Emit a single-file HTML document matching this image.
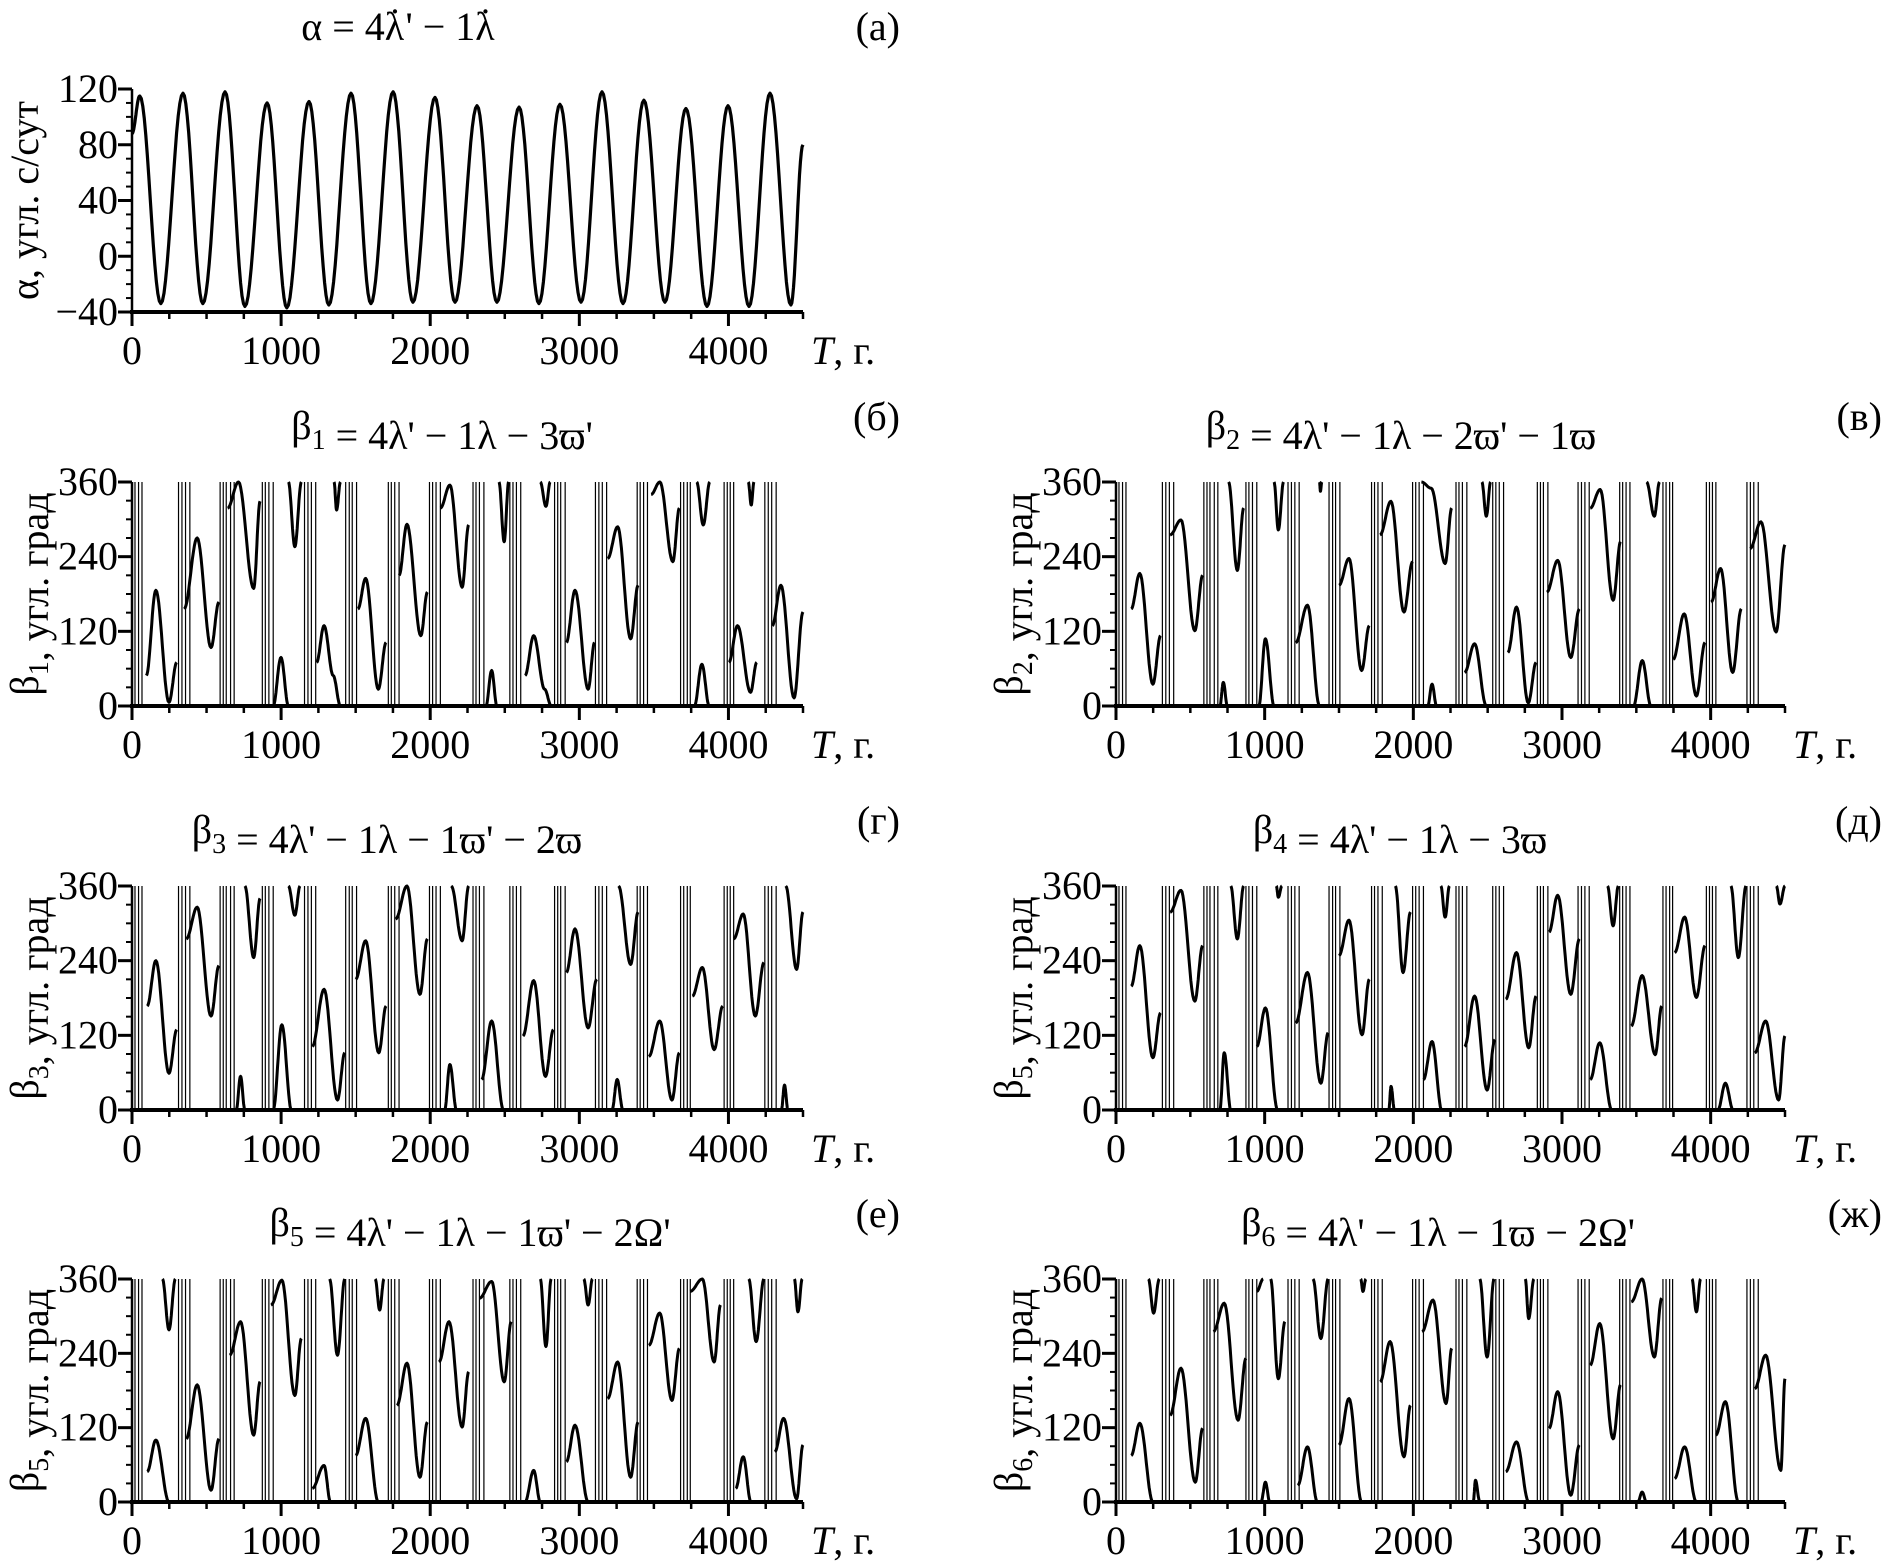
<!DOCTYPE html>
<html><head><meta charset="utf-8">
<style>
html,body{margin:0;padding:0;background:#fff;}
svg{display:block;}
text{font-family:"Liberation Serif",serif;fill:#000;}
</style></head>
<body>
<svg id="fig" width="1888" height="1566" viewBox="0 0 1888 1566" xmlns="http://www.w3.org/2000/svg">
<rect width="1888" height="1566" fill="#fff"/>
</svg>
<script>
// ---- Panel (a) data: extremes of alpha ----
const alphaT = [0,52,193,342,475,624,757,906,1038,1187,1320,1469,1602,1751,1884,2032,2166,2314,2447,2596,2729,2870,3011,3152,3293,3433,3574,3715,3856,3997,4138,4279,4419,4500];
const alphaV = [88,115,-34,117,-34,118,-36,110,-37,111,-35,117,-34,118,-33,114,-33,108,-33,107,-34,109,-33,118,-34,112,-33,106,-36,108,-36,117,-35,80];
const alphaTicks = [-40,0,40,80,120];
const betaTicks = [0,120,240,360];
const xTicks = [0,1000,2000,3000,4000];
// fast-circulation (wrap) line positions, years
const wrapT = [20,44,67,312,335,359,388,591,612,632,661,685,874,894,918,947,1157,1180,1203,1232,1433,1457,1477,1506,1719,1739,1762,1791,1995,2016,2039,2068,2287,2307,2330,2360,2534,2555,2578,2607,2834,2855,2875,2905,3108,3131,3154,3183,3388,3408,3431,3457,3679,3700,3724,3744,3971,3992,4012,4035,4244,4267,4290,4320];
// ---- beta1 arcs ----
const b1T = [[96,160,248,300],[350,437,530,583],[641,714,816,859],[1049,1092,1136],[947,999,1049],[1238,1288,1349,1398],[1355,1372,1398],[1515,1567,1652,1704],[1791,1844,1937,1981],[2068,2132,2214,2258],[2374,2412,2447],[2461,2496,2526],[2636,2694,2767,2812],[2738,2776,2805],[2913,2971,3059,3102],[3190,3257,3344,3394],[3481,3540,3627,3671],[3787,3831,3875],[3772,3822,3871],[4003,4061,4148,4190],[4133,4153,4171],[4294,4352,4440,4500]];
const b1V = [[49,186,6,70],[156,270,94,167],[318,360,189,329],[360,256,360],[0,78,0],[70,129,49,0],[360,315,360],[156,205,27,102],[210,292,113,183],[318,355,191,291],[0,57,0],[360,264,360],[49,113,27,0],[360,321,360],[102,186,27,102],[237,288,108,194],[340,360,232,318],[360,291,360],[0,67,0],[70,129,22,70],[360,323,360],[129,194,13,151]];
// ---- beta2 arcs ----
const b2T = [[102,160,248,300],[364,437,530,583],[757,816,859],[1063,1092,1127],[1369,1375,1384],[699,722,749],[961,1005,1063],[1209,1288,1369],[1500,1567,1652,1704],[1776,1849,1937,1995],[2054,2120,2214,2258],[2097,2126,2156],[2461,2491,2520],[2345,2412,2491],[2636,2694,2773,2826],[2898,2971,3059,3117],[3190,3257,3344,3394],[3569,3621,3656],[3481,3540,3598],[3748,3822,3904,3962],[4003,4067,4148,4206],[4265,4338,4440,4500]];
const b2V = [[156,213,35,113],[275,299,121,210],[360,218,318],[360,283,360],[360,345,360],[0,38,0],[0,108,0],[102,162,0],[194,237,57,129],[275,329,151,232],[360,350,229,318],[0,35,0],[360,305,360],[54,100,0],[86,159,5,70],[183,234,78,156],[318,348,170,264],[360,305,360],[0,73,0],[75,148,16,102],[167,221,54,156],[253,296,119,259]];
// ---- beta3 arcs ----
const b3T = [[102,160,248,300],[364,437,530,583],[757,816,859],[1049,1092,1127],[699,728,757],[947,1005,1069],[1209,1288,1378,1427],[1500,1567,1655,1704],[1768,1844,1931,1981],[2141,2214,2258],[2097,2132,2176],[2345,2412,2491],[2622,2694,2773,2826],[2913,2971,3059,3117],[3263,3344,3394],[3219,3254,3292],[3466,3539,3621,3671],[3758,3825,3904,3962],[4035,4099,4180,4238],[4355,4376,4399],[4384,4457,4500]];
const b3V = [[167,240,59,129],[275,326,151,232],[360,245,340],[360,313,360],[0,54,0],[0,137,0],[102,194,16,92],[210,272,92,167],[307,360,186,275],[360,272,360],[0,73,0],[49,143,0],[119,208,54,129],[221,291,132,210],[360,234,318],[0,49,0],[86,143,16,92],[183,229,97,167],[275,315,151,237],[0,40,0],[360,226,318]];
// ---- beta4 arcs ----
const b4T = [[102,160,248,300],[364,437,530,583],[772,816,859],[1078,1092,1116],[699,728,772],[947,1005,1087],[1209,1288,1378,1427],[1500,1567,1655,1704],[1879,1931,1981],[2185,2214,2243],[1835,1850,1873],[2068,2126,2191],[2345,2412,2496,2549],[2622,2694,2776,2826],[2913,2971,3059,3117],[3306,3344,3379],[3190,3254,3335],[3466,3539,3627,3671],[3758,3825,3904,3962],[4136,4186,4238],[4049,4099,4151],[4297,4370,4457,4500],[4442,4466,4500]];
const b4V = [[199,264,84,156],[318,353,175,264],[360,275,360],[360,342,360],[0,92,0],[102,164,0],[140,221,43,124],[248,305,121,210],[360,221,318],[360,310,360],[0,38,0],[49,110,0],[102,183,32,113],[178,253,100,183],[286,345,186,275],[360,296,360],[49,108,0],[135,216,89,167],[253,310,181,264],[360,245,360],[0,43,0],[92,143,16,119],[360,331,360]];
// ---- beta5 arcs ----
const b5T = [[102,160,248],[204,248,291],[364,437,530,583],[655,728,816,859],[932,1005,1092,1136],[1209,1288,1331],[1325,1378,1427],[1500,1567,1652],[1631,1661,1690],[1777,1844,1931,1981],[2059,2126,2214,2258],[2330,2412,2496,2543],[2636,2694,2738],[2738,2776,2811],[2913,2971,3059],[3030,3059,3088],[3190,3257,3344,3394],[3466,3539,3621,3671],[3743,3825,3904,3947],[4049,4099,4151],[4136,4186,4238],[4311,4370,4457,4500],[4442,4466,4495]];
const b5V = [[49,100,0],[360,278,360],[102,189,19,102],[237,291,108,194],[318,358,172,264],[22,59,0],[360,237,360],[75,135,0],[360,310,360],[156,224,40,129],[226,291,121,210],[329,356,194,291],[0,51,0],[360,251,360],[65,124,0],[360,318,360],[167,226,40,129],[253,305,164,248],[340,360,226,318],[22,73,0],[360,259,360],[81,135,5,92],[360,307,360]];
// ---- beta6 arcs ----
const b6T = [[102,160,248],[218,253,291],[364,437,533,583],[655,728,821,874],[947,990],[1040,1092,1136],[976,1005,1034],[1223,1288,1355],[1325,1378,1427],[1646,1661,1681],[1500,1567,1652],[1777,1844,1937,1981],[2059,2132,2220,2258],[2403,2418,2447],[2447,2496,2543],[2622,2694,2776],[2753,2776,2811],[2913,2971,3059,3117],[3190,3254,3344,3394],[3466,3539,3621,3671],[3874,3904,3932],[3510,3539,3568],[3758,3825,3904],[4035,4099,4186],[4297,4370,4472,4500]];
const b6V = [[75,127,0],[360,305,360],[140,216,32,119],[275,321,132,232],[340,360],[360,199,291],[0,32,0],[27,89,0],[360,264,360],[360,340,360],[92,167,0],[194,259,73,156],[275,326,159,248],[0,35,0],[360,234,360],[49,97,0],[360,296,360],[119,178,11,92],[221,288,102,189],[323,360,234,329],[360,307,360],[0,16,0],[38,89,0],[108,162,0],[183,237,51,199]];

const NS = "http://www.w3.org/2000/svg";
const svg = document.getElementById('fig');
function el(tag, attrs, parent){
  const e = document.createElementNS(NS, tag);
  for (const k in attrs) e.setAttribute(k, attrs[k]);
  (parent||svg).appendChild(e);
  return e;
}
const COL = {L:[132,803], R:[1116,1785]};
const ROW = {a:[89,312], r2:[482,706], r3:[886,1110], r4:[1279,1502]};

function xScale(c){ return t => c[0] + (t/4500)*(c[1]-c[0]); }
function yScale(r, lo, hi){ return v => r[1] - (v-lo)/(hi-lo)*(r[1]-r[0]); }

function smoothPath(Ts, Vs, sx, sy){
  let d = '';
  for (let i=0;i<Ts.length-1;i++){
    const n = 14;
    for (let k=0;k<=n;k++){
      if (i>0 && k===0) continue;
      const f = k/n;
      const w = (1-Math.cos(Math.PI*f))/2;
      const t = Ts[i] + (Ts[i+1]-Ts[i])*f;
      const v = Vs[i] + (Vs[i+1]-Vs[i])*w;
      d += (d?'L':'M') + sx(t).toFixed(1) + ',' + sy(v).toFixed(1);
    }
  }
  return d;
}

function axes(g, c, r, lo, hi, yMajor, yMinorStep, sx, sy, name){
  const ya = el('line',{x1:c[0],y1:r[0],x2:c[0],y2:r[1]+2,stroke:'#000','stroke-width':2.5},g);
  
  
  for (let v=lo; v<=hi+0.01; v+=yMinorStep){
    const maj = yMajor.indexOf(v)>=0;
    const tk = el('line',{x1:c[0]-(maj?14:6),y1:sy(v),x2:c[0],y2:sy(v),stroke:'#000','stroke-width':maj?3:2},g);
    
    
  }
  yMajor.forEach(v=>{
    const tx = el('text',{x:c[0]-14,y:sy(v)+13,'text-anchor':'end','font-size':40},g);
    tx.textContent = v<0 ? '\u2212'+Math.abs(v) : String(v);
    
    
  });
  const xa = el('line',{x1:c[0]-2,y1:r[1],x2:c[1],y2:r[1],stroke:'#000','stroke-width':4},g);
  
  
  for (let t=0;t<=4500;t+=250){
    const maj = t%1000===0;
    const tk = el('line',{x1:sx(t),y1:r[1],x2:sx(t),y2:r[1]+(maj?14:7),stroke:'#000','stroke-width':maj?3:2.5},g);
    
    
  }
  xTicks.forEach(t=>{
    const tx = el('text',{x:sx(t),y:r[1]+52,'text-anchor':'middle','font-size':40},g);
    tx.textContent = String(t);
    
    
  });
  const xt = el('text',{x:c[1]+8,y:r[1]+52,'font-size':40},g);
  xt.innerHTML = '<tspan font-style="italic">T</tspan>, г.';
  
  
}

function title(g, x, y, html, name){
  const t = el('text',{x:x,y:y,'text-anchor':'middle','font-size':40},g);
  t.innerHTML = html;
  
  
}
function yTitle(g, x, r, html, name){
  const cy = (r[0]+r[1])/2;
  const t = el('text',{x:x,y:cy,'text-anchor':'middle','font-size':40,transform:'rotate(-90 '+x+' '+cy+')'},g);
  t.innerHTML = html;
  
  
}

// ---------- Panel (a) ----------
(function(){
  const c = COL.L, r = ROW.a;
  const sx = xScale(c), sy = yScale(r,-40,120);
  const g = el('g',{});
  
  
  const p = el('path',{d:smoothPath(alphaT, alphaV, sx, sy),fill:'none',stroke:'#000','stroke-width':3.2,'stroke-linejoin':'round'},g);
  
  
  axes(g, c, r, -40, 120, alphaTicks, 10, sx, sy, 'panel-a');
  title(g, 398, 40, 'α = 4λ<tspan dx="-16" dy="-4">˙</tspan><tspan dx="4" dy="4">\' − 1λ</tspan><tspan dx="-16" dy="-4">˙</tspan>', 'panel-a-title');
  const lb = el('text',{x:900,y:40,'text-anchor':'end','font-size':40},g);
  lb.textContent = '(а)';
  
  
  yTitle(g, 38, r, 'α, угл. с/сут', 'panel-a-y-axis-title');
})();

// ---------- Beta panels ----------
const sub = s => '<tspan font-size="28" dy="10">'+s+'</tspan><tspan dy="-10"></tspan>';
const panels = [
  {id:'b', col:'L', row:'r2', T:b1T, V:b1V, tx:442, title:'β'+sub('1')+' = 4λ\' − 1λ − 3ϖ\'', lab:'(б)', ytitle:'β'+sub('1')+', угл. град'},
  {id:'v', col:'R', row:'r2', T:b2T, V:b2V, tx:1401, title:'β'+sub('2')+' = 4λ\' − 1λ − 2ϖ\' − 1ϖ', lab:'(в)', ytitle:'β'+sub('2')+', угл. град'},
  {id:'g', col:'L', row:'r3', T:b3T, V:b3V, tx:387, title:'β'+sub('3')+' = 4λ\' − 1λ − 1ϖ\' − 2ϖ', lab:'(г)', ytitle:'β'+sub('3')+', угл. град'},
  {id:'d', col:'R', row:'r3', T:b4T, V:b4V, tx:1400, title:'β'+sub('4')+' = 4λ\' − 1λ − 3ϖ', lab:'(д)', ytitle:'β'+sub('5')+', угл. град'},
  {id:'e', col:'L', row:'r4', T:b5T, V:b5V, tx:470, title:'β'+sub('5')+' = 4λ\' − 1λ − 1ϖ\' − 2Ω\'', lab:'(е)', ytitle:'β'+sub('5')+', угл. град'},
  {id:'zh', col:'R', row:'r4', T:b6T, V:b6V, tx:1438, title:'β'+sub('6')+' = 4λ\' − 1λ − 1ϖ − 2Ω\'', lab:'(ж)', ytitle:'β'+sub('6')+', угл. град'}
];
panels.forEach(P=>{
  const c = COL[P.col], r = ROW[P.row];
  const sx = xScale(c), sy = yScale(r,0,360);
  const g = el('g',{});
  
  
  wrapT.forEach(t=>{
    const ln = el('line',{x1:sx(t),y1:sy(360),x2:sx(t),y2:sy(0),stroke:'#000','stroke-width':1.2},g);
    
    
  });
  P.T.forEach((arcT,i)=>{
    const p = el('path',{d:smoothPath(arcT, P.V[i], sx, sy),fill:'none',stroke:'#000','stroke-width':3,'stroke-linejoin':'round'},g);
    
    
  });
  axes(g, c, r, 0, 360, betaTicks, 30, sx, sy, 'panel-'+P.id);
  title(g, P.tx, r[0]-43, P.title, 'panel-'+P.id+'-title');
  const lb = el('text',{x:(P.col==='L'?900:1882),y:r[0]-52,'text-anchor':'end','font-size':40},g);
  lb.textContent = P.lab;
  
  
  yTitle(g, P.col==='L'?38:1022, r, P.ytitle, 'panel-'+P.id+'-y-axis-title');
});
</script>
</body></html>
